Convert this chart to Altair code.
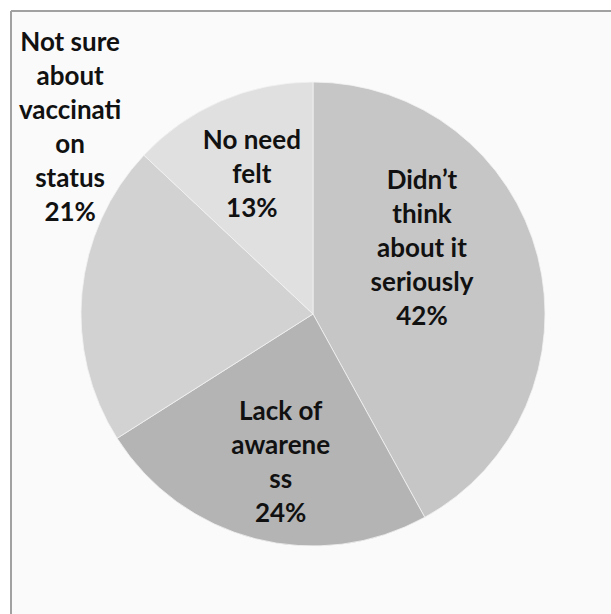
import math
import altair as alt
import pandas as pd

# ---- data ----
categories = [
    "Didn’t think about it seriously",
    "Lack of awareness",
    "Not sure about vaccination status",
    "No need felt",
]
values = [42, 24, 21, 13]
label_lines = [
    ["Didn’t", "think", "about it", "seriously"],
    ["Lack of", "awarene", "ss"],
    ["Not sure", "about", "vaccinati", "on", "status"],
    ["No need", "felt"],
]
colors = ["#c6c6c6", "#b4b4b4", "#d2d2d2", "#e0e0e0"]

df = pd.DataFrame({
    "category": categories,
    "value": values,
    "order": list(range(len(categories))),
    "label": [lines + [f"{v}%"] for lines, v in zip(label_lines, values)],
})

# ---- layout ----
W, H = 600, 603          # plot area (padding 11 left/top)
CX, CY = 302, 303        # pie centre inside plot area
R = 232
LH = 34                  # line height of labels
theta_scale = alt.Scale(domain=[0, 100], range=[0, 2 * math.pi])

base = alt.Chart(df).transform_stack(
    stack="value", groupby=[], as_=["v0", "v1"],
    sort=[alt.SortField("order", order="ascending")],
)

arc = base.mark_arc(outerRadius=R, stroke="#f2f2f2", strokeWidth=0.8).encode(
    theta=alt.Theta("v0:Q", scale=theta_scale),
    theta2="v1:Q",
    color=alt.Color("category:N", scale=alt.Scale(domain=categories, range=colors), legend=None),
    x=alt.value(CX),
    y=alt.value(CY),
)

# per-label placement (radius from centre, pixel nudges of block centre)
placements = [
    (128, -15, -33),
    (150, 5, 4),
    (250, 6, -162),
    (154, 0, 2),
]

text_layers = []
for i, (rad, dx, dy) in enumerate(placements):
    n_lines = len(label_lines[i]) + 1
    t = base.transform_calculate(mid="(datum.v0 + datum.v1) / 2").transform_filter(
        alt.datum.order == i
    ).mark_text(
        radius=rad, dx=dx, dy=dy - (n_lines - 1) * LH / 2,
        font="Lato", fontWeight="bold", fontSize=26,
        lineHeight=LH, align="center", baseline="middle", color="#111111",
    ).encode(
        theta=alt.Theta("mid:Q", scale=theta_scale, stack=False),
        text="label",
        x=alt.value(CX),
        y=alt.value(CY),
    )
    text_layers.append(t)

frame_top = alt.Chart(df).mark_rule(color="#a0a0a0", strokeWidth=1.5).encode(
    x=alt.value(0), x2=alt.value(W + 5), y=alt.value(0)
)
frame_left = alt.Chart(df).mark_rule(color="#a0a0a0", strokeWidth=1.5).encode(
    x=alt.value(0), y=alt.value(0), y2=alt.value(H + 5)
)

chart = alt.layer(arc, *text_layers, frame_top, frame_left).properties(
    width=W, height=H,
    autosize=alt.AutoSizeParams(type="none"),
    padding={"left": 11, "top": 11, "right": 0, "bottom": 0},
    background="white",
).configure_view(fill="#fafafa", strokeWidth=0)

chart.save("out.html", embed_options={"renderer": "svg", "actions": False})
